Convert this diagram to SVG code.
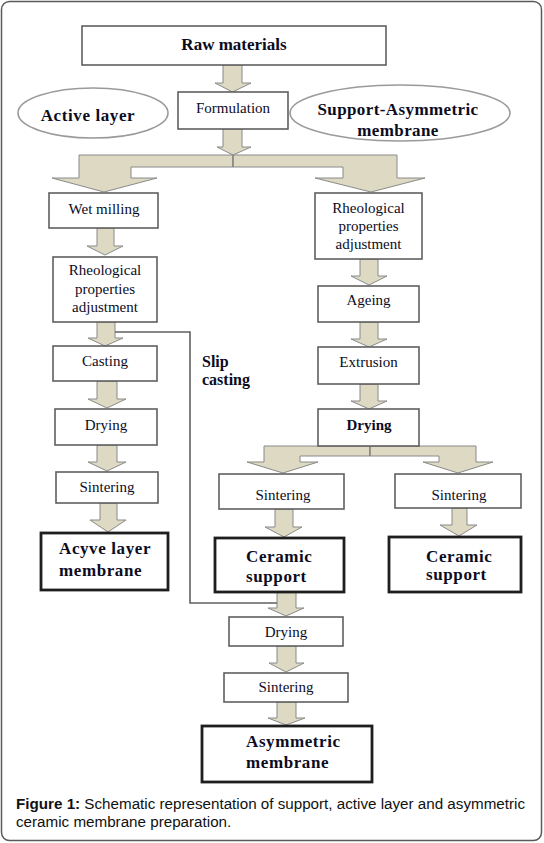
<svg xmlns="http://www.w3.org/2000/svg" width="544" height="843" viewBox="0 0 544 843">
<style>
.frame{fill:#fff;stroke:#5a5a5a;stroke-width:1.5}
.box{fill:#fff;stroke:#5f5f5f;stroke-width:1.6}
.tbox{fill:#fff;stroke:#1e1e1e;stroke-width:2.8}
.ell{fill:#fff;stroke:#9a9a9a;stroke-width:1.6}
.arr{fill:#ddd9c3;stroke:#8a8a8a;stroke-width:1}
.line{fill:none;stroke:#606060;stroke-width:1.6}
.sep{stroke:#7a7a7a;stroke-width:1}
.t{font-family:'Liberation Serif','DejaVu Serif',serif;font-size:15px;fill:#0c0c1e;text-anchor:middle}
.b{font-family:'Liberation Serif','DejaVu Serif',serif;font-weight:bold;font-size:17px;fill:#0c0c1e}
.bl{letter-spacing:0.6px}
.cap{font-family:'Liberation Sans',Arial,sans-serif;font-size:15.2px;fill:#111}
</style>
<rect class="frame" x="1.5" y="1.5" width="540" height="839" rx="8"/>

<g id="connectors">
<polygon class="arr" points="223,65 242,65 242,83 251,83 232.5,92 215,83 223,83"/>
<polygon class="arr" points="223,129 242,129 242,147 251,147 233,155 217,147 223,147"/>
<polygon class="arr" points="233,155 79,155 79,178 52,178 104,192 157,178 131,178 131,167 233,167"/>
<polygon class="arr" points="233,155 397,155 397,178 425,178 371,192 315,178 343,178 343,167 233,167"/>
<line class="sep" x1="233" y1="155" x2="233" y2="167"/>
<polygon class="arr" points="97,228 114,228 114,246 123,246 105,255 87,246 97,246"/>
<polygon class="arr" points="97,322 115,322 115,338 123,338 105,346 88,338 97,338"/>
<polygon class="arr" points="97,381 117,381 117,399 126,399 107,408 88,399 97,399"/>
<polygon class="arr" points="97,445 117,445 117,462 126,462 107,471 88,462 97,462"/>
<polygon class="arr" points="100,503 117,503 117,520 126,520 108,532 90,520 100,520"/>
<polygon class="arr" points="360,259 378,259 378,276 387,276 369,285 351,276 360,276"/>
<polygon class="arr" points="360,322 378,322 378,339 387,339 369,347 351,339 360,339"/>
<polygon class="arr" points="360,384 378,384 378,401 387,401 369,409 351,401 360,401"/>
<polygon class="arr" points="370,446 264,446 264,462 247,462 283,473 318,462 300,462 300,456 370,456"/>
<polygon class="arr" points="370,446 476,446 476,462 493,462 458,473 423,462 439,462 439,456 370,456"/>
<line class="sep" x1="370" y1="446" x2="370" y2="456"/>
<polygon class="arr" points="275,509 293,509 293,527 302,527 284,537 265,527 275,527"/>
<polygon class="arr" points="452,508 467,508 467,525 477,525 459,536 440,525 452,525"/>
<polygon class="arr" points="277,592 296,592 296,608 304,608 286,616 268,608 277,608"/>
<polygon class="arr" points="277,646 296,646 296,663 304,663 286,672 269,663 277,663"/>
<polygon class="arr" points="277,702 296,702 296,718 305,718 286,725 268,718 277,718"/>
<polyline class="line" points="115,332 190,332 190,603 277,603"/>
</g>

<g id="raw"><rect class="box" x="82" y="26" width="304" height="39"/><text class="t" x="234" y="50" style="font-weight:bold;font-size:17px">Raw materials</text></g>
<g id="active-layer"><ellipse class="ell" cx="93" cy="113" rx="75" ry="25"/><text class="b bl" x="88" y="121" text-anchor="middle">Active layer</text></g>
<g id="formulation"><rect class="box" x="178" y="92" width="110" height="37"/><text class="t" x="233" y="113">Formulation</text></g>
<g id="support-asym"><ellipse class="ell" cx="400" cy="113" rx="110" ry="28"/><text class="b" x="398" y="115" text-anchor="middle" style="letter-spacing:0.4px">Support-Asymmetric</text><text class="b" x="398" y="136" text-anchor="middle" style="letter-spacing:0.4px">membrane</text></g>

<g id="wet-milling"><rect class="box" x="49" y="193" width="109" height="35"/><text class="t" x="104" y="214">Wet milling</text></g>
<g id="rheo-left"><rect class="box" x="53" y="257" width="104" height="65"/><text class="t" x="105" y="275">Rheological</text><text class="t" x="105" y="294">properties</text><text class="t" x="105" y="312">adjustment</text></g>
<g id="casting"><rect class="box" x="53" y="346" width="104" height="35"/><text class="t" x="105" y="366">Casting</text></g>
<g id="drying-left"><rect class="box" x="55" y="409" width="102" height="36"/><text class="t" x="106" y="430">Drying</text></g>
<g id="sintering-left"><rect class="box" x="56" y="472" width="102" height="31"/><text class="t" x="107" y="492">Sintering</text></g>
<g id="active-membrane"><rect class="tbox" x="41" y="533" width="127" height="57"/><text class="b bl" x="59" y="554">Acyve layer</text><text class="b bl" x="59" y="576">membrane</text></g>

<g id="slip-casting-label"><text class="b" x="202" y="367" style="font-size:16px">Slip</text><text class="b" x="202" y="385" style="font-size:16px">casting</text></g>

<g id="rheo-right"><rect class="box" x="315" y="193" width="107" height="66"/><text class="t" x="368.5" y="213">Rheological</text><text class="t" x="368.5" y="231">properties</text><text class="t" x="368.5" y="249">adjustment</text></g>
<g id="ageing"><rect class="box" x="318" y="286" width="101" height="36"/><text class="t" x="368.5" y="305">Ageing</text></g>
<g id="extrusion"><rect class="box" x="318" y="347" width="101" height="37"/><text class="t" x="368.5" y="367">Extrusion</text></g>
<g id="drying-right"><rect class="box" x="318" y="409" width="101" height="37"/><text class="t" x="369" y="430" style="font-weight:bold">Drying</text></g>

<g id="sintering-mid"><rect class="box" x="219" y="474" width="125" height="35"/><text class="t" x="283" y="500">Sintering</text></g>
<g id="sintering-right"><rect class="box" x="395" y="474" width="126" height="34"/><text class="t" x="459" y="500">Sintering</text></g>
<g id="ceramic-mid"><rect class="tbox" x="215" y="538" width="129" height="54"/><text class="b bl" x="246" y="562">Ceramic</text><text class="b bl" x="246" y="582">support</text></g>
<g id="ceramic-right"><rect class="tbox" x="389" y="537" width="132" height="55"/><text class="b bl" x="426" y="562">Ceramic</text><text class="b bl" x="426" y="580">support</text></g>

<g id="drying-bottom"><rect class="box" x="229" y="617" width="114" height="29"/><text class="t" x="286" y="637">Drying</text></g>
<g id="sintering-bottom"><rect class="box" x="224" y="673" width="124" height="29"/><text class="t" x="286" y="692">Sintering</text></g>
<g id="asym-membrane"><rect class="tbox" x="202" y="726" width="170" height="56"/><text class="b bl" x="246" y="747">Asymmetric</text><text class="b bl" x="246" y="768">membrane</text></g>

<g id="caption"><text class="cap" x="16" y="809"><tspan font-weight="bold">Figure 1:</tspan> Schematic representation of support, active layer and asymmetric</text><text class="cap" x="16" y="827">ceramic membrane preparation.</text></g>
</svg>
